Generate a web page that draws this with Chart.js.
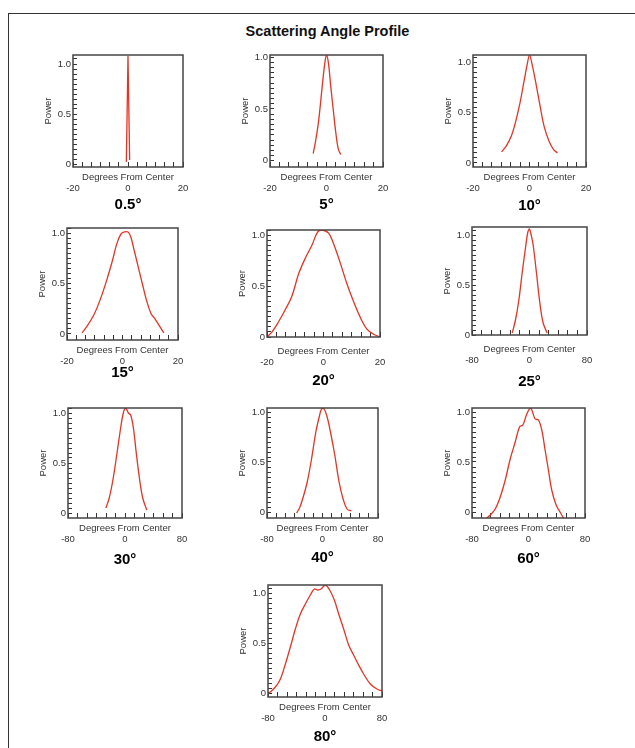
<!DOCTYPE html>
<html>
<head>
<meta charset="utf-8">
<title>Scattering Angle Profile</title>
<script src="https://cdn.jsdelivr.net/npm/chart.js@4.4.1/dist/chart.umd.min.js"></script>
<style>
  body { margin: 0; background: #fff; font-family: 'Liberation Sans', Arial, sans-serif; }
  #page { position: relative; width: 635px; height: 748px; overflow: hidden; background: #fff; }
  #frame { position: absolute; left: 8px; top: 13px; width: 700px; height: 800px; border-left: 1.5px solid #333; border-top: 1.5px solid #333; }
  #title { position: absolute; left: 0; width: 655px; top: 23px; line-height: 17px; text-align: center; font-weight: bold; font-size: 14.5px; color: #111; }
  .panel { position: absolute; }
</style>
</head>
<body>
<div id="page">
  <div id="frame"></div>
  <div id="title">Scattering Angle Profile</div>
</div>
<script>
// nome de cada perfil (angulo de espalhamento)
const angles = ['0.5°', '5°', '10°', '15°', '20°', '25°', '30°', '40°', '60°', '80°'];

// graus a partir do centro / potencia
const deg05 = [-0.6, 0, 0.6];
const pow05 = [0.02, 1.08, 0.04];
const deg5 = [-4.7, -3.8, -2.9, -2.1, -1.4, -0.6, 0, 0.7, 1.5, 2.4, 3.3, 4.2, 5.1];
const pow5 = [0.07, 0.2, 0.36, 0.56, 0.75, 0.94, 1.02, 0.94, 0.72, 0.49, 0.27, 0.11, 0.06];
const deg10 = [-9.9, -8.2, -6.4, -4.9, -3.4, -2.0, -0.8, 0, 0.9, 2.2, 3.7, 5.2, 7.0, 8.6, 9.9];
const pow10 = [0.11, 0.17, 0.27, 0.41, 0.59, 0.80, 0.98, 1.07, 0.98, 0.80, 0.57, 0.36, 0.21, 0.13, 0.10];
const deg15 = [-14.6, -12.7, -10.3, -7.9, -5.5, -3.6, -2.1, -0.6, 0.4, 2.0, 3.0, 4.2, 5.7, 7.3, 8.8, 10.3, 11.7, 13.3, 14.9];
const pow15 = [0.01, 0.08, 0.19, 0.35, 0.55, 0.73, 0.89, 0.99, 1.01, 1.01, 0.96, 0.83, 0.66, 0.48, 0.32, 0.20, 0.15, 0.08, 0.01];
const deg20 = [-20, -18.2, -15.9, -13.5, -11.2, -8.8, -6.5, -4.1, -2.1, -0.6, 1.8, 3.5, 5.9, 8.2, 10.6, 12.9, 15.3, 17.6, 20];
const pow20 = [0, 0.05, 0.15, 0.27, 0.40, 0.62, 0.77, 0.90, 1.03, 1.05, 1.02, 0.92, 0.73, 0.53, 0.35, 0.20, 0.08, 0.03, 0];
const deg25 = [-24.1, -19.5, -14.8, -10.2, -5.6, -2.3, 0, 2.3, 5.1, 9.7, 14.4, 19.0, 24.6];
const pow25 = [0.02, 0.15, 0.35, 0.62, 0.87, 1.03, 1.06, 1.0, 0.90, 0.62, 0.32, 0.12, 0.02];
const deg30 = [-26.8, -22.1, -16.5, -10.8, -6.1, -2.4, 0.9, 4.7, 8.0, 11.8, 15.5, 20.2, 24.9, 30.6];
const pow30 = [0.05, 0.15, 0.35, 0.62, 0.85, 1.0, 1.05, 1.0, 0.98, 0.85, 0.62, 0.35, 0.15, 0.03];
const deg40 = [-37.3, -32.5, -27.8, -22.0, -15.8, -9.6, -4.8, -1.4, 2.4, 6.7, 11.5, 17.7, 23.9, 29.7, 35.4, 41.6];
const pow40 = [-0.01, 0.05, 0.15, 0.30, 0.53, 0.80, 0.95, 1.03, 1.03, 0.95, 0.80, 0.57, 0.30, 0.13, 0.03, 0.01];
const deg60 = [-59.3, -54.1, -47.1, -40, -32.9, -25.9, -18.8, -12.7, -8, -2.4, 2.4, 4.7, 9.4, 14.1, 18.8, 23.5, 28.2, 32.9, 39.1, 44.7, 49.4];
const pow60 = [-0.06, -0.03, 0.03, 0.15, 0.32, 0.53, 0.70, 0.85, 0.87, 0.98, 1.04, 1.02, 0.93, 0.92, 0.82, 0.62, 0.42, 0.22, 0.07, 0.0, -0.06];
const deg80 = [-80, -69.6, -62.6, -55.6, -48.6, -41.6, -34.6, -27.6, -20.6, -15, -10.3, -5.6, 0.5, 6.5, 13.1, 19.2, 26.2, 33.2, 40.2, 47.2, 54.2, 63.6, 72.9, 80];
const pow80 = [-0.01, 0.06, 0.14, 0.29, 0.46, 0.64, 0.79, 0.89, 0.98, 1.04, 1.03, 1.04, 1.08, 1.03, 0.93, 0.79, 0.64, 0.48, 0.38, 0.28, 0.19, 0.09, 0.04, 0.02];

const degrees = [deg05, deg5, deg10, deg15, deg20, deg25, deg30, deg40, deg60, deg80];
const powers = [pow05, pow5, pow10, pow15, pow20, pow25, pow30, pow40, pow60, pow80];

// limites dos eixos de cada grafico
const xLimit = [20, 20, 20, 20, 20, 80, 80, 80, 80, 80];
const yLow = [-0.03, -0.06, -0.04, -0.06, 0, 0, -0.05, -0.06, -0.06, -0.04];
const yHigh = [1.09, 1.02, 1.07, 1.05, 1.05, 1.08, 1.05, 1.04, 1.04, 1.08];

// marcas do eixo de potencia (a cada 0.05) e as que levam rotulo
const powerTicks = [0, 0.05, 0.1, 0.15, 0.2, 0.25, 0.3, 0.35, 0.4, 0.45, 0.5, 0.55, 0.6, 0.65, 0.7, 0.75, 0.8, 0.85, 0.9, 0.95, 1.0, 1.05];
const powerLabels = { '0': '0', '0.5': '0.5', '1': '1.0' };
// marcas do eixo de graus: 12 divisoes entre -limite e +limite
const degreeSteps = [0, 1, 2, 3, 4, 5, 6, 7, 8, 9, 10, 11, 12];

// posicao da caixa de cada grafico na pagina: esquerda, topo, largura, altura, y do rotulo, distancia do titulo do eixo x
const boxes = [
  [73, 55, 110, 112, 205, 10],
  [270, 55, 113, 112, 205, 10],
  [473, 55, 113, 112, 206, 10],
  [67, 228, 111, 112, 373, 10],
  [267, 230, 113, 107, 381, 14],
  [472, 227, 115, 108, 382, 14],
  [68, 408, 114, 110, 560, 10],
  [267, 408, 111, 110, 558, 10],
  [472, 408, 113, 110, 559, 10],
  [268, 585, 114, 112, 737, 10]
];

const FONT = "'Liberation Sans', Arial, sans-serif";
const small = { size: 9.5, family: FONT, lineHeight: 1.2 };
const page = document.getElementById('page');

// desenha o quadro completo em volta da area do grafico
const frame = {
  id: 'frame',
  afterDatasetsDraw(chart) {
    const a = chart.chartArea;
    const ctx = chart.ctx;
    ctx.save();
    ctx.strokeStyle = '#444';
    ctx.lineWidth = 1.5;
    ctx.strokeRect(a.left, a.top, a.right - a.left, a.bottom - a.top);
    ctx.restore();
  }
};

angles.forEach((name, i) => {
  const [bl, bt, bw, bh, ly, gap] = boxes[i];
  const lim = xLimit[i];
  const top = bt - 10;
  const w = bw + 52;
  const h = Math.round(ly + 11 - top);
  const xAxisH = gap + 20; // cabe o titulo do eixo e os numeros embaixo
  const titlePad = h - 10 - bh - xAxisH - 18 - 2; // pode ser negativo, sobrepoe o eixo

  const box = document.createElement('div');
  box.className = 'panel';
  box.style.left = (bl - 40) + 'px';
  box.style.top = top + 'px';
  box.style.width = w + 'px';
  box.style.height = h + 'px';
  const canvas = document.createElement('canvas');
  box.appendChild(canvas);
  page.appendChild(box);

  new Chart(canvas, {
    type: 'line',
    data: {
      datasets: [{
        data: degrees[i].map((x, k) => ({ x: x, y: powers[i][k] })),
        borderColor: '#e63323',
        borderWidth: 1.3,
        pointRadius: 0,
        tension: i === 0 ? 0 : 0.35,
        fill: false
      }]
    },
    options: {
      responsive: true,
      maintainAspectRatio: false,
      animation: false,
      layout: { padding: { top: 10, right: 12, left: 0, bottom: 0 } },
      plugins: {
        legend: { display: false },
        tooltip: { enabled: false },
        title: {
          display: true,
          text: name,
          position: 'bottom',
          fullSize: false,
          color: '#000',
          font: { size: 15, weight: 'bold', family: FONT, lineHeight: 1.2 },
          padding: { top: titlePad, bottom: 2 }
        }
      },
      scales: {
        x: {
          type: 'linear',
          min: -lim,
          max: lim,
          // altura fixa e sem folga lateral, a caixa fica onde queremos
          afterFit: s => { s.height = xAxisH; s.paddingLeft = 0; s.paddingRight = 0; },
          afterBuildTicks: s => { s.ticks = degreeSteps.map(k => ({ value: -lim + k * lim / 6 })); },
          border: { display: false },
          grid: { drawOnChartArea: false, tickLength: -5, color: '#333' },
          ticks: {
            autoSkip: false,
            maxRotation: 0,
            padding: gap + 10.3,
            color: '#333',
            font: small,
            callback: v => (Math.abs(v) < 1e-6 || Math.abs(Math.abs(v) - lim) < 1e-6) ? String(Math.round(v)) : ''
          },
          title: {
            display: true,
            text: 'Degrees From Center',
            color: '#333',
            font: small,
            padding: { top: 0, bottom: xAxisH - gap - 5.7 }
          }
        },
        y: {
          min: yLow[i],
          max: yHigh[i],
          afterFit: s => { s.width = 40; s.paddingTop = 0; s.paddingBottom = 0; },
          afterBuildTicks: s => { s.ticks = powerTicks.filter(v => v >= s.min && v <= s.max).map(v => ({ value: v })); },
          border: { display: false },
          grid: { drawOnChartArea: false, tickLength: -4, color: '#333' },
          ticks: {
            autoSkip: false,
            padding: 6,
            color: '#333',
            font: small,
            callback: v => powerLabels[String(Math.round(v * 100) / 100)] || ''
          },
          title: {
            display: true,
            text: 'Power',
            color: '#333',
            font: small,
            padding: { top: 9.3, bottom: 0 }
          }
        }
      }
    },
    plugins: [frame]
  });
});
</script>
</body>
</html>
